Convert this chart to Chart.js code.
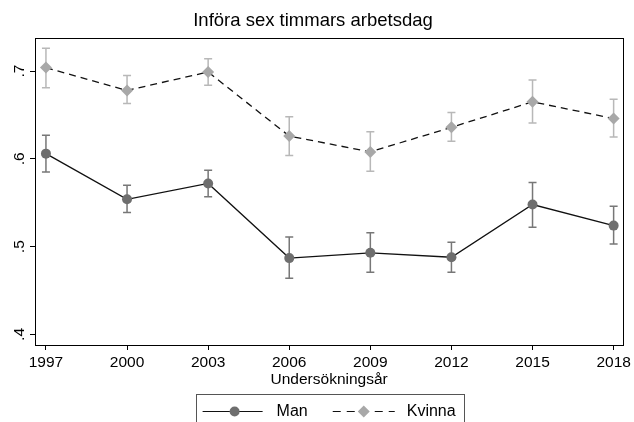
<!DOCTYPE html>
<html>
<head>
<meta charset="utf-8">
<script src="https://cdn.jsdelivr.net/npm/chart.js@4"></script>
<style>
  html, body { margin: 0; padding: 0; background: #fff; }
  #wrap { width: 634px; height: 422px; }
</style>
</head>
<body>
<div id="wrap"><canvas id="chart"></canvas></div>
<script>
const years = [1997, 2000, 2003, 2006, 2009, 2012, 2015, 2018];
const seriesNames = ['Man', 'Kvinna'];
const manValues = [0.606, 0.554, 0.572, 0.487, 0.493, 0.488, 0.548, 0.524];
const manLow = [0.585, 0.539, 0.557, 0.464, 0.471, 0.471, 0.522, 0.503];
const manHigh = [0.627, 0.570, 0.587, 0.511, 0.516, 0.505, 0.573, 0.546];
const kvinnaValues = [0.704, 0.678, 0.699, 0.626, 0.608, 0.636, 0.665, 0.646];
const kvinnaLow = [0.681, 0.663, 0.684, 0.604, 0.586, 0.620, 0.641, 0.625];
const kvinnaHigh = [0.726, 0.695, 0.714, 0.648, 0.631, 0.653, 0.690, 0.668];
const yTicks = [0.4, 0.5, 0.6, 0.7];

const FONT = "'Liberation Sans', Arial, sans-serif";
const lineCol = '#111111';
const manMarker = '#6e6e6e';
const kvinnaMarker = '#a8a8a8';

const errorBars = {
  id: 'errorBars',
  beforeDatasetsDraw(chart) {
    const ctx = chart.ctx;
    const xs = chart.scales.x, ys = chart.scales.y;
    const sets = [[manLow, manHigh, '#777777'], [kvinnaLow, kvinnaHigh, '#b8b8b8']];
    ctx.save();
    ctx.lineWidth = 1.5;
    sets.forEach(([lo, hi, col]) => {
      ctx.strokeStyle = col;
      years.forEach((yr, i) => {
        const x = xs.getPixelForValue(yr);
        const y1 = ys.getPixelForValue(lo[i]);
        const y2 = ys.getPixelForValue(hi[i]);
        ctx.beginPath();
        ctx.moveTo(x, y1); ctx.lineTo(x, y2);
        ctx.moveTo(x - 4, y1); ctx.lineTo(x + 4, y1);
        ctx.moveTo(x - 4, y2); ctx.lineTo(x + 4, y2);
        ctx.stroke();
      });
    });
    ctx.restore();
  }
};

// plot frame + Stata-style legend box under the plot region
const frameAndLegend = {
  id: 'frameAndLegend',
  afterDraw(chart) {
    const ctx = chart.ctx;
    const a = chart.chartArea;
    ctx.save();
    ctx.strokeStyle = '#000';
    ctx.lineWidth = 1;
    ctx.strokeRect(Math.round(a.left) + 0.5, Math.round(a.top) + 0.5, Math.round(a.right - a.left), Math.round(a.bottom - a.top));

    ctx.font = '16px ' + FONT;
    const wMan = ctx.measureText(seriesNames[0]).width;
    const wKv = ctx.measureText(seriesNames[1]).width;
    const total = 60 + 14 + wMan + 25 + 62 + 12 + wKv;
    const x0 = (a.left + a.right) / 2 - total / 2;
    const y = 411.5;

    ctx.strokeStyle = '#555';
    ctx.strokeRect(Math.round(x0 - 7) + 0.5, 394.5, Math.round(total + 15), 40);

    // Man
    ctx.strokeStyle = lineCol;
    ctx.lineWidth = 1.2;
    ctx.beginPath(); ctx.moveTo(x0, y); ctx.lineTo(x0 + 60, y); ctx.stroke();
    ctx.fillStyle = manMarker;
    ctx.beginPath(); ctx.arc(x0 + 32, y, 5, 0, Math.PI * 2); ctx.fill();
    ctx.fillStyle = '#000';
    ctx.textBaseline = 'middle';
    ctx.textAlign = 'left';
    ctx.fillText(seriesNames[0], x0 + 74, y);

    // Kvinna
    const x1 = x0 + 74 + wMan + 25;
    ctx.setLineDash([8, 6]);
    ctx.beginPath(); ctx.moveTo(x1, y); ctx.lineTo(x1 + 62, y); ctx.stroke();
    ctx.setLineDash([]);
    ctx.fillStyle = kvinnaMarker;
    const cx = x1 + 31;
    ctx.beginPath();
    ctx.moveTo(cx, y - 6); ctx.lineTo(cx + 6, y); ctx.lineTo(cx, y + 6); ctx.lineTo(cx - 6, y);
    ctx.closePath(); ctx.fill();
    ctx.fillStyle = '#000';
    ctx.fillText(seriesNames[1], x1 + 74, y);
    ctx.restore();
  }
};

new Chart(document.getElementById('chart'), {
  type: 'line',
  data: {
    datasets: [
      {
        label: seriesNames[0],
        data: years.map((yr, i) => ({ x: yr, y: manValues[i] })),
        borderColor: lineCol,
        borderWidth: 1.3,
        pointStyle: 'circle',
        pointRadius: 5,
        pointBackgroundColor: manMarker,
        pointBorderWidth: 0,
        tension: 0
      },
      {
        label: seriesNames[1],
        data: years.map((yr, i) => ({ x: yr, y: kvinnaValues[i] })),
        borderColor: lineCol,
        borderWidth: 1.3,
        borderDash: [7, 5],
        pointStyle: 'rectRot',
        pointRadius: 6,
        pointBackgroundColor: kvinnaMarker,
        pointBorderWidth: 0,
        tension: 0
      }
    ]
  },
  options: {
    responsive: true,
    maintainAspectRatio: false,
    animation: false,
    layout: { padding: { left: 0, right: 8, top: 0, bottom: 32 } },
    plugins: {
      title: {
        display: true,
        text: 'Införa sex timmars arbetsdag',
        color: '#000',
        font: { family: FONT, size: 18.5, weight: 'normal' },
        padding: { top: 10, bottom: 6 }
      },
      legend: { display: false },
      tooltip: { enabled: false }
    },
    scales: {
      x: {
        type: 'linear',
        min: 1996.595,
        max: 2018.357,
        afterBuildTicks: (s) => { s.ticks = years.map(v => ({ value: v })); },
        afterFit: (s) => { s.height = 45; },
        ticks: {
          color: '#000',
          font: { family: FONT, size: 15.5 },
          padding: 3,
          maxRotation: 0,
          callback: (v) => String(v)
        },
        grid: { display: true, drawOnChartArea: false, drawTicks: true, tickLength: 5, color: '#000' },
        border: { display: true, color: '#000' },
        title: {
          display: true,
          text: 'Undersökningsår',
          color: '#000',
          font: { family: FONT, size: 15.5 },
          padding: { top: 0, bottom: 1 }
        }
      },
      y: {
        min: 0.388,
        max: 0.7375,
        afterBuildTicks: (s) => { s.ticks = yTicks.map(v => ({ value: v })); },
        afterFit: (s) => { s.width = 35; },
        ticks: {
          color: '#000',
          font: { family: FONT, size: 15.5 },
          minRotation: 90,
          maxRotation: 90,
          crossAlign: 'center',
          padding: 4,
          callback: (v) => v.toFixed(1).replace(/^0/, '')
        },
        grid: { display: true, drawOnChartArea: false, drawTicks: true, tickLength: 5, color: '#000' },
        border: { display: true, color: '#000' }
      }
    }
  },
  plugins: [errorBars, frameAndLegend]
});
</script>
</body>
</html>
